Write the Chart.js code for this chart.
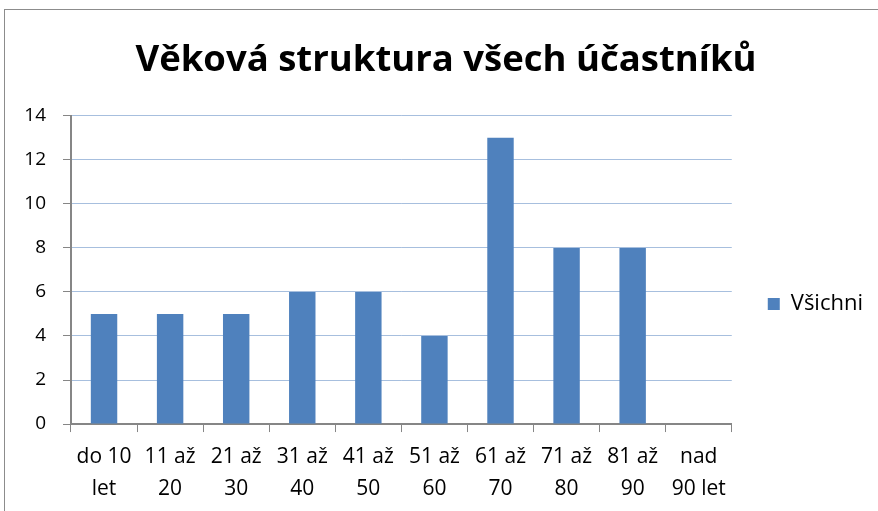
<!DOCTYPE html>
<html>
<head>
<meta charset="utf-8">
<script src="https://cdn.jsdelivr.net/npm/chart.js@4/dist/chart.umd.min.js"></script>
<style>
    html, body { margin: 0; padding: 0; background: #fff; overflow: hidden; }
    #frame {
        position: absolute; left: 4px; top: 9px;
        width: 892px; height: 522px;
        border: 1px solid #8c8c8c; box-sizing: border-box;
    }
    #chartWrap { position: absolute; left: 0; top: 0; width: 890px; height: 520px; }
</style>
</head>
<body>
<div id="frame"><div id="chartWrap"><canvas id="myChart"></canvas></div></div>
<script>
// Age groups (two-line labels as in the original)
var categories = [
    ['do 10', 'let'], ['11 až', '20'], ['21 až', '30'], ['31 až', '40'], ['41 až', '50'],
    ['51 až', '60'], ['61 až', '70'], ['71 až', '80'], ['81 až', '90'], ['nad', '90 let']
];
var seriesName = 'Všichni';
var values = [5, 5, 5, 6, 6, 4, 13, 8, 8, 0];
var chartTitle = 'Věková struktura všech účastníků';
var yMin = 0, yMax = 14, yStep = 2;

var fontFamily = '"Open Sans", "DejaVu Sans", sans-serif';
var axisGray = '#868686';

var ctx = document.getElementById('myChart');

var myChart = new Chart(ctx, {
    type: 'bar',
    data: {
        labels: categories,
        datasets: [{
            label: seriesName,
            data: values,
            backgroundColor: '#4F81BD',
            borderWidth: 0,
            categoryPercentage: 1.0,
            barPercentage: 0.4
        }]
    },
    options: {
        responsive: true,
        maintainAspectRatio: false,
        animation: false,
        layout: {
            // left padding only nudges the title centre, the y axis width makes up for it
            padding: { left: 14, right: 22, top: 0, bottom: 16 }
        },
        scales: {
            x: {
                grid: {
                    display: true,
                    drawOnChartArea: false,
                    drawTicks: true,
                    tickLength: 8,
                    offset: true,
                    color: axisGray,
                    lineWidth: 1
                },
                border: { display: true, color: axisGray, width: 2 },
                ticks: {
                    color: '#000',
                    padding: 8,
                    maxRotation: 0,
                    autoSkip: false,
                    font: { family: fontFamily, size: 21, lineHeight: 1.57 }
                }
            },
            y: {
                min: yMin,
                max: yMax,
                grid: {
                    color: '#A7BFDE',
                    tickColor: axisGray,
                    tickLength: 8,
                    lineWidth: 1
                },
                border: { display: true, color: axisGray, width: 2 },
                ticks: {
                    stepSize: yStep,
                    color: '#000',
                    padding: 17,
                    font: { family: fontFamily, size: 19 }
                },
                afterFit: function (scale) {
                    scale.width = 52;
                }
            }
        },
        plugins: {
            title: {
                display: true,
                text: chartTitle,
                color: '#000',
                font: { family: fontFamily, size: 36.5, weight: 'bold', lineHeight: 1.2 },
                padding: { top: 29, bottom: 33 }
            },
            legend: {
                position: 'right',
                title: {
                    display: true,
                    text: ' ',
                    font: { family: fontFamily, size: 20 },
                    padding: { top: 30, bottom: 30 }
                },
                labels: {
                    boxWidth: 12,
                    boxHeight: 12,
                    padding: 36,
                    color: '#000',
                    font: { family: fontFamily, size: 22 }
                }
            },
            tooltip: { enabled: false }
        }
    }
});
</script>
</body>
</html>
